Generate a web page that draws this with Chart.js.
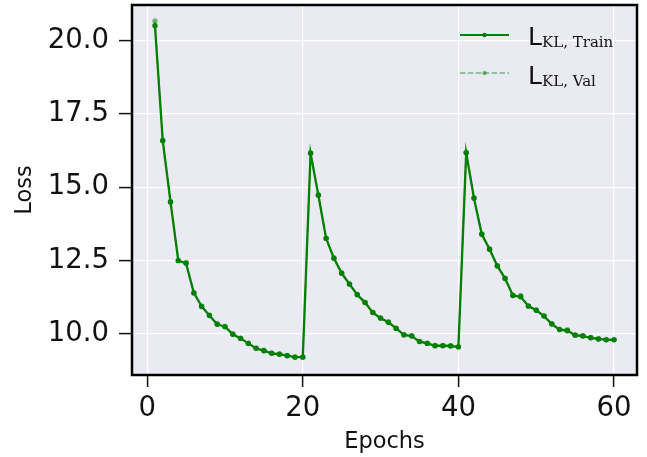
<!DOCTYPE html>
<html><head><meta charset="utf-8">
<script src="https://cdn.jsdelivr.net/npm/chart.js@4/dist/chart.umd.min.js"></script>
<style>html,body{margin:0;padding:0;background:#fff;}#wrap{width:647px;height:457px;}</style>
</head><body><div id="wrap"><canvas id="c" width="647" height="457"></canvas></div>
<script>
const epochs = [1,2,3,4,5,6,7,8,9,10,11,12,13,14,15,16,17,18,19,20,21,22,23,24,25,26,27,28,29,30,31,32,33,34,35,36,37,38,39,40,41,42,43,44,45,46,47,48,49,50,51,52,53,54,55,56,57,58,59,60];
const trainLoss = [20.51,16.59,14.50,12.50,12.41,11.40,10.94,10.63,10.33,10.25,9.99,9.85,9.68,9.51,9.43,9.34,9.31,9.26,9.21,9.21,
                   16.16,14.73,13.26,12.58,12.07,11.70,11.34,11.07,10.73,10.54,10.40,10.19,9.97,9.93,9.74,9.68,9.60,9.60,9.59,9.56,
                   16.18,14.63,13.40,12.89,12.32,11.89,11.31,11.27,10.95,10.81,10.61,10.34,10.15,10.11,9.96,9.93,9.87,9.83,9.80,9.80];
const valLoss   = [20.67,16.61,14.52,12.51,12.44,11.41,10.95,10.64,10.34,10.26,10.00,9.86,9.69,9.52,9.45,9.35,9.32,9.27,9.22,9.22,
                   16.18,14.75,13.27,12.59,12.08,11.71,11.35,11.08,10.74,10.55,10.41,10.20,9.98,9.94,9.75,9.69,9.61,9.61,9.60,9.57,
                   16.19,14.65,13.41,12.90,12.33,11.90,11.32,11.31,10.96,10.82,10.62,10.35,10.16,10.15,9.97,9.94,9.88,9.84,9.81,9.81];
const xTicks = [0,20,40,60];
const yTicks = [10,12.5,15,17.5,20];
const legendLabels = [
  {main:'L', sub:'KL, Train'},
  {main:'L', sub:'KL, Val'}
];
const GREEN = 'rgb(0,128,0)';
const GREEN_A = 'rgba(0,128,0,0.5)';
const TXT = '#111';

const bgPlugin = {
  id:'bg',
  beforeDraw(chart){
    const {ctx, chartArea:a} = chart;
    ctx.save(); ctx.fillStyle = '#EAEAF2';
    ctx.fillRect(a.left, a.top, a.right-a.left, a.bottom-a.top);
    ctx.restore();
  }
};
const framePlugin = {
  id:'frame',
  afterDatasetsDraw(chart){
    const {ctx, chartArea:a} = chart;
    ctx.save(); ctx.strokeStyle = '#000'; ctx.lineWidth = 2.5;
    ctx.strokeRect(a.left, a.top, a.right-a.left, a.bottom-a.top);
    ctx.restore();
  }
};
const legendPlugin = {
  id:'mathLegend',
  afterDraw(chart){
    const ctx = chart.ctx;
    const rows = [
      {y:35, color:GREEN, dash:[], w:2, lab:legendLabels[0], base:45, subBase:47},
      {y:73, color:GREEN_A, dash:[5.5,2.4], w:1.5, lab:legendLabels[1], base:83.5, subBase:86}
    ];
    ctx.save();
    rows.forEach(r=>{
      ctx.strokeStyle = r.color; ctx.lineWidth = r.w; ctx.setLineDash(r.dash);
      ctx.beginPath(); ctx.moveTo(460, r.y); ctx.lineTo(509, r.y); ctx.stroke();
      ctx.setLineDash([]);
      ctx.fillStyle = r.color; ctx.beginPath(); ctx.arc(484.5, r.y, 2.2, 0, Math.PI*2); ctx.fill();
      ctx.fillStyle = TXT;
      ctx.textBaseline = 'alphabetic'; ctx.textAlign = 'left';
      ctx.font = '25px "DejaVu Sans"';
      ctx.fillText(r.lab.main, 528, r.base);
      ctx.font = '15px "DejaVu Serif"';
      ctx.fillText(r.lab.sub, 542, r.subBase);
    });
    ctx.restore();
  }
};

const tickFont = {family:'"DejaVu Sans"', size:27.5};
const titleFont = {family:'"DejaVu Sans"', size:22.5};

new Chart(document.getElementById('c'), {
  type:'line',
  data:{
    datasets:[
      {label:'Train', data:epochs.map((e,i)=>({x:e,y:trainLoss[i]})), borderColor:GREEN, backgroundColor:GREEN,
       borderWidth:2.3, pointRadius:2.7, pointBackgroundColor:GREEN, pointBorderWidth:0, tension:0, order:1},
      {label:'Val', data:epochs.map((e,i)=>({x:e,y:valLoss[i]})), borderColor:GREEN_A, backgroundColor:GREEN_A,
       borderWidth:1.5, borderDash:[5.5,2.4], pointRadius:2.7, pointBackgroundColor:GREEN_A, pointBorderWidth:0, tension:0, order:0}
    ]
  },
  options:{
    responsive:false, animation:false, devicePixelRatio:1,
    layout:{padding:{top:5,right:10,left:0,bottom:0}},
    plugins:{legend:{display:false}, tooltip:{enabled:false}},
    scales:{
      x:{type:'linear', min:-1.95, max:62.95,
         afterBuildTicks(s){ s.ticks = xTicks.map(v=>({value:v})); },
         afterFit(s){ s.height = 82; s.paddingLeft = 0; s.paddingRight = 0; },
         grid:{color:'#fff', lineWidth:1.2, tickColor:TXT, tickLength:12, tickWidth:1.5},
         border:{display:false},
         ticks:{font:tickFont, color:TXT, padding:5, maxRotation:0, callback:v=>String(v)},
         title:{display:true, text:'Epochs', font:titleFont, color:TXT, padding:{top:0,bottom:1}}},
      y:{type:'linear', min:8.602, max:21.217,
         afterBuildTicks(s){ s.ticks = yTicks.map(v=>({value:v})); },
         afterFit(s){ s.width = 132; s.paddingTop = 0; s.paddingBottom = 0; },
         grid:{color:'#fff', lineWidth:1.2, tickColor:TXT, tickLength:13, tickWidth:1.5},
         border:{display:false},
         ticks:{font:tickFont, color:TXT, padding:10, callback:v=>Number(v).toFixed(1)},
         title:{display:true, text:'Loss', font:titleFont, color:TXT, padding:{top:12,bottom:0}}}
    }
  },
  plugins:[bgPlugin, framePlugin, legendPlugin]
});
</script></body></html>
